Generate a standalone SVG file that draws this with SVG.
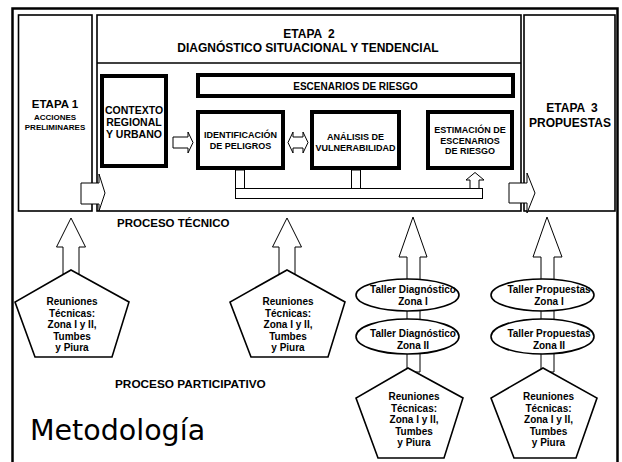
<svg xmlns="http://www.w3.org/2000/svg" width="622" height="462" viewBox="0 0 622 462">
<style>
text{font-family:"Liberation Sans",Arial,sans-serif;font-weight:bold;fill:#000;text-anchor:middle}
.box{fill:#fff;stroke:#000;stroke-width:1.6}
.thick{fill:#fff;stroke:#000;stroke-width:4}
.arr{fill:#fff;stroke:#000;stroke-width:1}
.shape{fill:#fff;stroke:#000;stroke-width:1.6}
.t8{font-size:8px}.t9{font-size:9px}.t10{font-size:10px}.t105{font-size:10.5px}.t12{font-size:12px}
</style>
<rect width="622" height="462" fill="#fff"/>
<g id="frame">
<path d="M12.5 470 V8.5 H617.5 V470" fill="none" stroke="#000" stroke-width="2.5"/>
</g>
<g id="etapa1">
<rect class="box" x="18.5" y="15" width="73.5" height="196"/>
<text class="t12" x="55" y="108" style="font-size:11.5px">ETAPA 1</text>
<text class="t8" x="55" y="120">ACCIONES</text>
<text class="t8" x="55" y="130">PRELIMINARES</text>
</g>
<g id="etapa2">
<rect class="box" x="97" y="15" width="424" height="196"/>
<line x1="97" y1="63" x2="521" y2="63" stroke="#000" stroke-width="1.6"/>
<text class="t12" x="309" y="38" word-spacing="3">ETAPA 2</text>
<text class="t12" x="308" y="52">DIAGNÓSTICO SITUACIONAL Y TENDENCIAL</text>
</g>
<g id="etapa3">
<rect class="box" x="524" y="15" width="91" height="196"/>
<text class="t12" x="572" y="112" word-spacing="3">ETAPA 3</text>
<text class="t12" x="570" y="127">PROPUESTAS</text>
</g>
<g id="contexto">
<rect class="thick" x="102" y="76" width="64" height="90"/>
<text class="t105" x="134" y="114">CONTEXTO</text>
<text class="t105" x="134" y="125.5">REGIONAL</text>
<text class="t105" x="134" y="137.5">Y URBANO</text>
</g>
<g id="escenarios">
<rect class="thick" x="198" y="75" width="315" height="21"/>
<text class="t10" x="355.5" y="89.5">ESCENARIOS DE RIESGO</text>
</g>
<g id="identificacion">
<rect class="thick" x="198" y="112" width="85" height="56"/>
<text class="t9" x="240.5" y="138">IDENTIFICACIÓN</text>
<text class="t9" x="240.5" y="148.5">DE PELIGROS</text>
</g>
<g id="analisis">
<rect class="thick" x="312" y="112" width="87" height="56"/>
<text class="t9" x="355.5" y="140">ANÁLISIS DE</text>
<text class="t9" x="355.5" y="150.5">VULNERABILIDAD</text>
</g>
<g id="estimacion">
<rect class="thick" x="428" y="112" width="84" height="56"/>
<text class="t9" x="470" y="133">ESTIMACIÓN DE</text>
<text class="t9" x="470" y="143.5">ESCENARIOS</text>
<text class="t9" x="470" y="154">DE RIESGO</text>
</g>
<g id="connectors">
<polygon class="arr" points="173,137 188,137 188,132 193,142.5 188,153 188,148 173,148"/>
<polygon class="arr" points="288,142.5 293,132 293,137 303,137 303,132 308,142.5 303,153 303,148 293,148 293,153"/>
<rect class="arr" x="235.5" y="170" width="9" height="18.5"/>
<rect class="arr" x="351.5" y="170" width="9" height="18.5"/>
<polygon class="arr" points="470,188.5 470,180 466,180 475,172.5 484,180 479,180 479,188.5"/>
<rect class="arr" x="235.5" y="188.5" width="247" height="10"/>
<polygon class="arr" points="81,183 99,183 99,174 105,193 99,211 99,204 81,204"/>
<polygon class="arr" points="509,183 527,183 527,173 535,193 527,213 527,203 509,203"/>
<polygon class="arr" points="71,218 85.5,247 79,247 79,274 63,274 63,247 56.5,247"/>
<polygon class="arr" points="287,218 301.5,247 295,247 295,274 279,274 279,247 272.5,247"/>
<polygon class="arr" points="413,217 427,257 420,257 420,372 407,372 407,257 399,257"/>
<polygon class="arr" points="547,217 562,257 554,257 554,372 541,372 541,257 533,257"/>
</g>
<g id="reuniones1">
<polygon class="shape" points="71,270 129,302 112,357 35,357 15,302"/>
<text class="t10" x="72" y="305">Reuniones</text>
<text class="t10" x="72" y="316.5">Técnicas:</text>
<text class="t10" x="72" y="328">Zona I y II,</text>
<text class="t10" x="72" y="339.5">Tumbes</text>
<text class="t10" x="72" y="351">y Piura</text>
</g>
<g id="reuniones2">
<polygon class="shape" points="287,270 345,302 328,357 251,357 230,302"/>
<text class="t10" x="288" y="305">Reuniones</text>
<text class="t10" x="288" y="316.5">Técnicas:</text>
<text class="t10" x="288" y="328">Zona I y II,</text>
<text class="t10" x="288" y="339.5">Tumbes</text>
<text class="t10" x="288" y="351">y Piura</text>
</g>
<g id="tallerDiag1">
<ellipse class="shape" cx="407.5" cy="295" rx="51.5" ry="16"/>
<text class="t10" x="413" y="293">Taller Diagnóstico</text>
<text class="t10" x="413" y="305">Zona I</text>
</g>
<g id="tallerDiag2">
<ellipse class="shape" cx="407.5" cy="336.5" rx="51.5" ry="17.5"/>
<text class="t10" x="413" y="337">Taller Diagnóstico</text>
<text class="t10" x="413" y="348.5">Zona II</text>
</g>
<g id="reuniones3">
<polygon class="shape" points="408,368 463,398 444,458 378,458 356,398"/>
<text class="t10" x="414" y="400">Reuniones</text>
<text class="t10" x="414" y="411.5">Técnicas:</text>
<text class="t10" x="414" y="423">Zona I y II,</text>
<text class="t10" x="414" y="434.5">Tumbes</text>
<text class="t10" x="414" y="446">y Piura</text>
</g>
<g id="tallerProp1">
<ellipse class="shape" cx="542.5" cy="295" rx="51.5" ry="16"/>
<text class="t10" x="549" y="293">Taller Propuestas</text>
<text class="t10" x="549" y="305">Zona I</text>
</g>
<g id="tallerProp2">
<ellipse class="shape" cx="542.5" cy="336.5" rx="51.5" ry="17.5"/>
<text class="t10" x="549" y="337">Taller Propuestas</text>
<text class="t10" x="549" y="348.5">Zona II</text>
</g>
<g id="reuniones4">
<polygon class="shape" points="543,368 597,398 576,458 514,458 491,398"/>
<text class="t10" x="548.5" y="400">Reuniones</text>
<text class="t10" x="548.5" y="411.5">Técnicas:</text>
<text class="t10" x="548.5" y="423">Zona I y II,</text>
<text class="t10" x="548.5" y="434.5">Tumbes</text>
<text class="t10" x="548.5" y="446">y Piura</text>
</g>
<g id="labels">
<text style="font-size:11.5px;text-anchor:start" x="117" y="227">PROCESO TÉCNICO</text>
<text style="font-size:11.8px;text-anchor:start" x="115" y="388">PROCESO PARTICIPATIVO</text>
<text style="font-family:'DejaVu Sans',Verdana,sans-serif;font-weight:normal;font-size:28.5px;text-anchor:start" x="30" y="440">Metodología</text>
</g>
</svg>
